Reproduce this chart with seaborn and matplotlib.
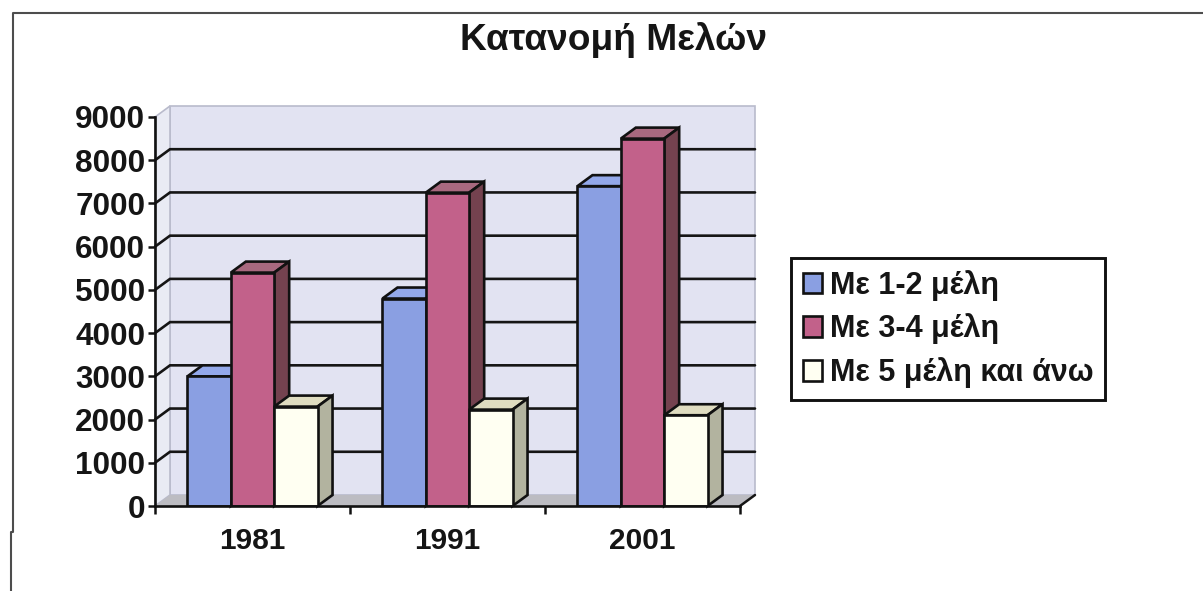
import pandas as pd
import matplotlib.pyplot as plt
from matplotlib.lines import Line2D
from matplotlib.patches import Polygon
import seaborn as sns

# values
years = ["1981", "1991", "2001"]
groups = ["Με 1-2 μέλη", "Με 3-4 μέλη", "Με 5 μέλη και άνω"]
small = [3000, 4800, 7400]
medium = [5400, 7250, 8500]
large = [2300, 2230, 2100]
title = "Κατανομή Μελών"
yticks = list(range(0, 10000, 1000))

front = ["#8a9fe2", "#c2618a", "#fffff2"]
top = ["#93a8ea", "#a8697f", "#dfdcc0"]
side = ["#7f8fc8", "#74424f", "#b2b39f"]

df = pd.DataFrame({
    "year": years * 3,
    "group": [groups[0]] * 3 + [groups[1]] * 3 + [groups[2]] * 3,
    "members": small + medium + large,
})

W, H = 1203, 591
sns.set_theme(style="white")
plt.rcParams["font.family"] = ["Liberation Sans", "DejaVu Sans"]
plt.rcParams["font.weight"] = "bold"

fig = plt.figure(figsize=(W / 100, H / 100), dpi=100, facecolor="white")
ax = fig.add_axes([155 / W, 1 - 506 / H, 585 / W, 389 / H])
ax.patch.set_visible(False)

sns.barplot(data=df, x="year", y="members", hue="group", hue_order=groups,
            palette=front, width=0.667, gap=0, saturation=1,
            edgecolor="#111111", linewidth=1.9, ax=ax, zorder=3)
ax.set_xlim(-0.5, 2.5)
ax.set_ylim(0, 9000)
ax.set_xlabel("")
ax.set_ylabel("")

# 3d depth in data units
dx = 15 / 195
dy = 11 / 389 * 9000
x0, x1 = -0.5, 2.5
wall_edge = "#b9bbcc"

# back wall, side wall, floor
ax.add_patch(Polygon([(x0 + dx, dy), (x1 + dx, dy), (x1 + dx, 9000 + dy), (x0 + dx, 9000 + dy)],
                     fc="#e2e3f2", ec=wall_edge, lw=1.2, clip_on=False, zorder=0))
ax.add_patch(Polygon([(x0, 0), (x0 + dx, dy), (x0 + dx, 9000 + dy), (x0, 9000)],
                     fc="#e9ebf4", ec=wall_edge, lw=1.2, clip_on=False, zorder=0.2))
ax.add_patch(Polygon([(x0, 0), (x0 + dx, dy), (x1 + dx, dy), (x1, 0)],
                     fc="#bcbcc2", ec="none", clip_on=False, zorder=0.4))

# gridlines run over the side wall and along the back wall
for v in yticks[1:-1]:
    ax.plot([x0, x0 + dx, x1 + dx], [v, v + dy, v + dy], color="#151515", lw=1.9,
            clip_on=False, zorder=1, solid_joinstyle="miter")
ax.plot([x1, x1 + dx], [0, dy], color="#151515", lw=1.8, clip_on=False, zorder=1)

# bar tops and sides, left to right so each bar covers the one before it
bars = []
for i, cont in enumerate(ax.containers):
    for j, bar in enumerate(cont):
        bars.append((j, i, bar))
for order, (j, i, bar) in enumerate(sorted(bars, key=lambda b: (b[0], b[1]))):
    z = 3 + order * 0.1
    bx, bw, bh = bar.get_x(), bar.get_width(), bar.get_height()
    ax.add_patch(Polygon([(bx, bh), (bx + dx, bh + dy), (bx + bw + dx, bh + dy), (bx + bw, bh)],
                         fc=top[i], ec="#111111", lw=1.9, clip_on=False, zorder=z))
    ax.add_patch(Polygon([(bx + bw, 0), (bx + bw + dx, dy), (bx + bw + dx, bh + dy), (bx + bw, bh)],
                         fc=side[i], ec="#111111", lw=1.9, clip_on=False, zorder=z))
    bar.set_zorder(z + 0.01)

sns.despine(ax=ax, top=True, right=True)
for name in ["left", "bottom"]:
    ax.spines[name].set_linewidth(1.9)
    ax.spines[name].set_color("#111111")
    ax.spines[name].set_zorder(20)

ax.set_yticks(yticks)
ax.set_xticks([-0.5, 0.5, 1.5, 2.5], minor=True)
ax.tick_params(axis="y", which="major", left=True, length=5, width=1.8, color="#111111",
               labelsize=22.7, labelcolor="#151515", pad=2)
ax.tick_params(axis="x", which="major", bottom=False, length=0, labelsize=21.5,
               labelcolor="#151515", pad=15)
ax.tick_params(axis="x", which="minor", bottom=True, length=6, width=1.8, color="#111111")

handles, labels = ax.get_legend_handles_labels()
leg = ax.legend(handles, labels, loc="upper left", bbox_to_anchor=(791 / W, 1 - 258 / H),
                bbox_transform=fig.transFigure, borderaxespad=0, frameon=True, fancybox=False,
                framealpha=1, edgecolor="#111111", fontsize=22, handlelength=0.65,
                handleheight=0.65, handletextpad=0.25, labelspacing=0.42, borderpad=0.38,
                labelcolor="#151515")
leg.get_frame().set_linewidth(2.1)
leg.set_zorder(30)

fig.text(614 / W, 1 - 39.5 / H, title, ha="center", va="center", fontsize=26.7,
         fontweight="bold", color="#151515")

# scanned page border, with the small step near the bottom left
fig.add_artist(Line2D([10.5 / W, 10.5 / W, 13 / W, 13 / W, 1],
                      [0, 1 - 532 / H, 1 - 532 / H, 1 - 13 / H, 1 - 13 / H],
                      color="#4d4d4d", lw=1.5))

fig.savefig("out.png", dpi=100)
